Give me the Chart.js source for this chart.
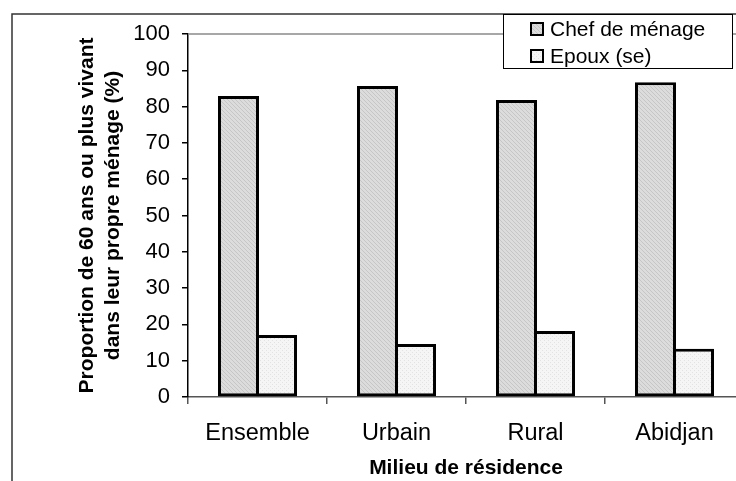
<!DOCTYPE html>
<html>
<head>
<meta charset="utf-8">
<script src="https://cdn.jsdelivr.net/npm/chart.js@4/dist/chart.umd.min.js"></script>
<style>
  html, body { margin: 0; padding: 0; background: #fff; overflow: hidden; }
  #wrap { width: 736px; height: 481px; overflow: hidden; position: relative; }
  #wrap canvas { position: absolute; left: 0; top: 0; }
</style>
</head>
<body>
<div id="wrap"><canvas id="chart" width="752" height="481"></canvas></div>
<script>
// data
const categories = ["Ensemble", "Urbain", "Rural", "Abidjan"];
const chefMenage = [82.9, 85.7, 81.8, 86.7];
const epouxSe = [17.1, 14.6, 18.2, 13.3];
const seriesNames = ["Chef de ménage", "Epoux (se)"];
const yMin = 0, yMax = 100, yStep = 10;

const FONT = 'Arial, "Liberation Sans", sans-serif';
const canvas = document.getElementById("chart");
const ctx = canvas.getContext("2d");

// small dotted fills like the old office charts
function makePattern(base, dot, pts) {
  const c = document.createElement("canvas");
  c.width = 4; c.height = 4;
  const g = c.getContext("2d");
  g.fillStyle = base;
  g.fillRect(0, 0, 4, 4);
  g.fillStyle = dot;
  pts.forEach(p => g.fillRect(p[0], p[1], 1, 1));
  return ctx.createPattern(c, "repeat");
}
const chefFill = makePattern("#dcdcdc", "#c6c6c6", [[0, 0], [1, 1], [2, 2], [3, 3]]);
const epouxFill = makePattern("#f5f5f5", "#e2e2e2", [[0, 0], [2, 2]]);

const framePlugin = {
  id: "frame",
  beforeDraw(chart) {
    const c = chart.ctx;
    c.save();
    c.fillStyle = "#fff";
    c.fillRect(0, 0, chart.width, chart.height);
    c.strokeStyle = "#333";
    c.lineWidth = 1.5;
    c.beginPath();
    c.moveTo(12, chart.height + 2);
    c.lineTo(12, 14);
    c.lineTo(chart.width + 2, 14);
    c.stroke();
    c.restore();
  },
  afterDraw(chart) {
    const c = chart.ctx;
    const a = chart.chartArea;
    c.save();
    // grey top edge of plot area
    c.strokeStyle = "#8a8a8a";
    c.lineWidth = 1.5;
    c.beginPath();
    c.moveTo(a.left, a.top);
    c.lineTo(a.right, a.top);
    c.stroke();

    // legend box
    c.fillStyle = "#fff";
    c.fillRect(503, 14, 229, 54);
    c.strokeStyle = "#000";
    c.lineWidth = 1;
    c.strokeRect(503.5, 14.5, 229, 54);
    c.font = "21px " + FONT;
    c.textBaseline = "middle";
    chart.data.datasets.forEach((ds, i) => {
      const cy = 29 + i * 27;
      c.fillStyle = ds.backgroundColor;
      c.fillRect(531, cy - 6, 12, 12);
      c.lineWidth = 2;
      c.strokeStyle = "#000";
      c.strokeRect(531, cy - 6, 12, 12);
      c.fillStyle = "#000";
      c.fillText(ds.label, 550, cy + 1);
    });
    c.restore();
  }
};

Chart.defaults.font.family = FONT;
Chart.defaults.color = "#000";

new Chart(ctx, {
  type: "bar",
  data: {
    labels: categories,
    datasets: [
      { label: seriesNames[0], data: chefMenage, backgroundColor: chefFill, borderColor: "#000", borderWidth: 3, borderSkipped: false },
      { label: seriesNames[1], data: epouxSe, backgroundColor: epouxFill, borderColor: "#000", borderWidth: 3, borderSkipped: false }
    ]
  },
  options: {
    responsive: false,
    animation: false,
    layout: { padding: { top: 34, right: 8, bottom: 0, left: 0 } },
    datasets: { bar: { categoryPercentage: 0.547, barPercentage: 1.079 } },
    plugins: { legend: { display: false }, tooltip: { enabled: false } },
    scales: {
      x: {
        grid: { drawOnChartArea: false, color: "#555", lineWidth: 1.5, tickLength: 7 },
        border: { color: "#555", width: 1.5 },
        ticks: { font: { size: 23.5 }, padding: 15 },
        title: { display: true, text: "Milieu de résidence", font: { size: 21, weight: "bold", lineHeight: 1.2 }, padding: { top: 0, bottom: 0 } },
        afterFit(scale) { scale.height = 84; }
      },
      y: {
        min: yMin,
        max: yMax,
        grid: { drawOnChartArea: false, color: "#000", lineWidth: 1.5, tickLength: 6 },
        border: { color: "#000", width: 1.5 },
        ticks: { stepSize: yStep, font: { size: 22 }, padding: 12 },
        title: {
          display: true,
          text: ["Proportion de 60 ans ou plus vivant", "dans leur propre ménage (%)"],
          font: { size: 21, weight: "bold", lineHeight: 1.2 },
          padding: { top: 75, bottom: 0 }
        },
        afterFit(scale) { scale.width = 188; }
      }
    }
  },
  plugins: [framePlugin]
});
</script>
</body>
</html>
